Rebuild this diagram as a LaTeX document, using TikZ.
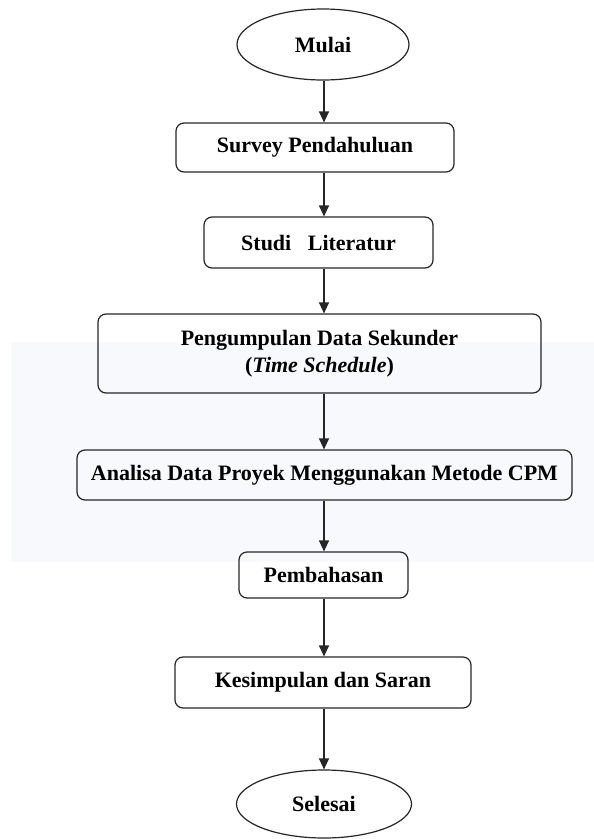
\documentclass[tikz,border=0pt]{standalone}
\usepackage{fontspec}
\setmainfont{Liberation Serif}
\usetikzlibrary{shapes.geometric,arrows.meta}
\definecolor{bandblue}{HTML}{F7F9FD}
\begin{document}
\begin{tikzpicture}[x=1pt,y=-1pt,
  every node/.style={font=\fontsize{22}{27}\selectfont\bfseries, line width=1.2pt, draw=black!85, inner sep=0pt},
  stepbox/.style={rectangle, rounded corners=8pt, align=center},
  termbox/.style={ellipse},
  arr/.style={line width=1.2pt, draw=black!85, -{Triangle[width=10pt,length=11pt]}}]
\useasboundingbox (0,0) rectangle (594,839);
\fill[bandblue] (11,342) rectangle (594,562);
\node[termbox, minimum width=172pt, minimum height=71pt] (mulai) at (323,44.5) {Mulai};
\node[stepbox, minimum width=278pt, minimum height=49pt] (survey) at (315,147.5) {Survey Pendahuluan};
\node[stepbox, minimum width=229pt, minimum height=51pt] (studi) at (318.5,242.5) {Studi\ \ \ Literatur};
\node[stepbox, minimum width=443pt, minimum height=79pt] (data) at (319.5,353.5) {Pengumpulan Data Sekunder\\(\textit{Time Schedule})};
\node[stepbox, minimum width=495pt, minimum height=50pt] (analisa) at (324.5,475) {Analisa Data Proyek Menggunakan Metode CPM};
\node[stepbox, minimum width=169pt, minimum height=46pt] (bahas) at (323.5,575) {Pembahasan};
\node[stepbox, minimum width=296pt, minimum height=51pt] (simpul) at (323,682.5) {Kesimpulan dan Saran};
\node[termbox, minimum width=175pt, minimum height=68pt] (selesai) at (324,804) {Selesai};
\coordinate (axis) at (324,0);
\draw[arr] (mulai.south -| axis) -- (survey.north -| axis);
\draw[arr] (survey.south -| axis) -- (studi.north -| axis);
\draw[arr] (studi.south -| axis) -- (data.north -| axis);
\draw[arr] (data.south -| axis) -- (analisa.north -| axis);
\draw[arr] (analisa.south -| axis) -- (bahas.north -| axis);
\draw[arr] (bahas.south -| axis) -- (simpul.north -| axis);
\draw[arr] (simpul.south -| axis) -- (selesai.north -| axis);
\end{tikzpicture}
\end{document}
